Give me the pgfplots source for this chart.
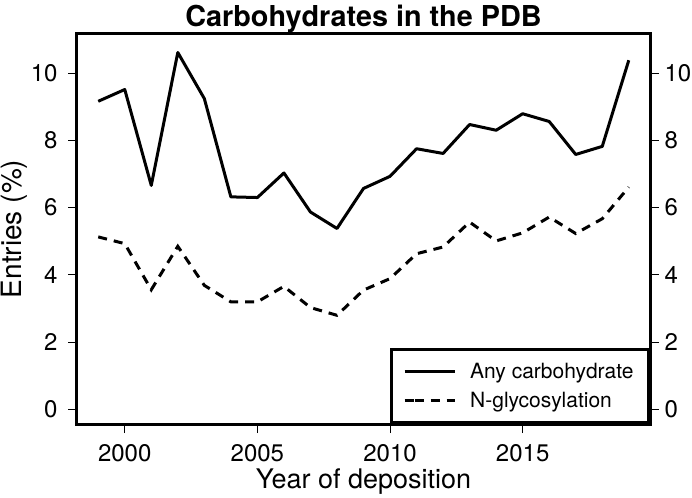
\documentclass[border=0pt]{standalone}
\usepackage{pgfplots}
\pgfplotsset{compat=1.18}
\usepackage{fontspec}
\setmainfont{TeX Gyre Heros}
\begin{document}
\begin{tikzpicture}[x=1pt,y=1pt]
\useasboundingbox (-77,-73) rectangle (615,424);
\pgfplotsset{
  common/.style={
    scale only axis, width=573pt, height=390pt,
    at={(0,0)}, anchor=south west,
    xmin=1998.2, xmax=2019.8, ymin=-0.43, ymax=11.16,
    xtick={2000,2005,2010,2015}, ytick={0,2,4,6,8,10},
    tick align=outside, major tick length=9pt,
    major tick style={line width=1pt, black},
    axis line style={line width=3pt},
    /pgf/number format/assume math mode=true,
    /pgf/number format/1000 sep={},
    tick label style={font=\fontsize{24}{28}\selectfont},
  }
}
\begin{axis}[common,
  xtick pos=bottom, ytick pos=left,
  xticklabel style={anchor=base, yshift=-28pt},
  yticklabel style={anchor=east, xshift=-7pt},
  title={\bfseries Carbohydrates in the PDB},
  title style={font=\fontsize{28.8}{32}\selectfont, at={(rel axis cs:0.5,1)}, anchor=base, yshift=1pt},
  xlabel={Year of deposition},
  xlabel style={font=\fontsize{27}{32}\selectfont, at={(rel axis cs:0.5,0)}, anchor=base, yshift=-64pt},
  ylabel={Entries (\%)},
  ylabel style={font=\fontsize{28}{32}\selectfont, at={(rel axis cs:0,0.5)}, anchor=base, yshift=55.5pt},
  legend style={at={(rel axis cs:1,0)}, anchor=south east, draw=black, line width=3pt,
    font=\fontsize{21}{25}\selectfont, inner xsep=12pt, inner ysep=11pt, row sep=5.5pt,
    nodes={inner sep=3pt}},
  legend cell align=left,
  legend image code/.code={\path (-10pt,0pt) -- (0pt,0pt); \draw[#1] (0pt,0pt) -- (40pt,0pt);},
  /tikz/every odd column/.append style={column sep=11pt},
]
\addplot[black, line width=3pt, line join=round] coordinates {
(1999,9.16) (2000,9.51) (2001,6.66) (2002,10.61) (2003,9.24) (2004,6.32)
(2005,6.30) (2006,7.03) (2007,5.87) (2008,5.38) (2009,6.57) (2010,6.93)
(2011,7.75) (2012,7.61) (2013,8.47) (2014,8.30) (2015,8.79) (2016,8.56)
(2017,7.58) (2018,7.82) (2019,10.38)};
\addlegendentry{Any carbohydrate}
\addplot[black, line width=3pt, dash pattern=on 9pt off 7pt] coordinates {
(1999,5.13) (2000,4.93) (2001,3.56) (2002,4.85) (2003,3.69) (2004,3.20)
(2005,3.20) (2006,3.66) (2007,3.03) (2008,2.80) (2009,3.55) (2010,3.89)
(2011,4.63) (2012,4.83) (2013,5.57) (2014,5.01) (2015,5.25) (2016,5.72)
(2017,5.23) (2018,5.67) (2019,6.61)};
\addlegendentry{N-glycosylation}
\end{axis}
\begin{axis}[common,
  xtick=\empty, ytick pos=right, yticklabel pos=right,
  yticklabel style={anchor=west, xshift=2pt},
  axis line style={draw=none},
]
\end{axis}
\end{tikzpicture}
\end{document}
